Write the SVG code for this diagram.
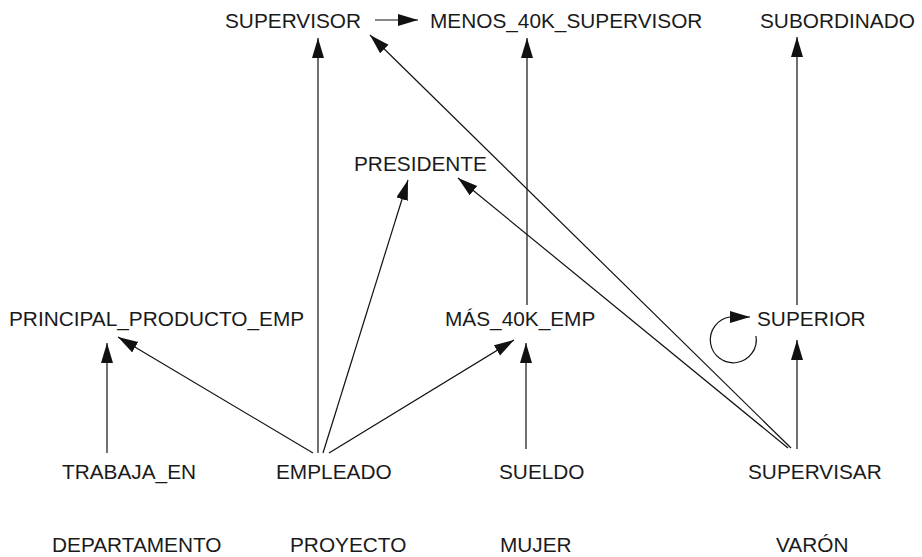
<svg xmlns="http://www.w3.org/2000/svg" width="922" height="557" viewBox="0 0 922 557">
<defs>
<marker id="ah" markerUnits="userSpaceOnUse" markerWidth="22" markerHeight="13" refX="20" refY="6" orient="auto">
<path d="M0,0 L20,6 L0,12 Z" fill="#111"/>
</marker>
<style>
text{font-family:"Liberation Sans",Arial,sans-serif;font-size:20.8px;fill:#1a1a1a}
.e{stroke:#111;stroke-width:1.2;fill:none;marker-end:url(#ah)}
</style>
</defs>
<rect width="922" height="557" fill="#fff"/>
<g id="n-supervisor"><text x="225" y="28">SUPERVISOR</text></g>
<g id="n-menos40k"><text x="430" y="28">MENOS_40K_SUPERVISOR</text></g>
<g id="n-subordinado"><text x="760" y="28">SUBORDINADO</text></g>
<g id="n-presidente"><text x="354" y="171">PRESIDENTE</text></g>
<g id="n-principal"><text x="9" y="326">PRINCIPAL_PRODUCTO_EMP</text></g>
<g id="n-mas40k"><text x="445" y="326">MÁS_40K_EMP</text></g>
<g id="n-superior"><text x="757" y="326">SUPERIOR</text></g>
<g id="n-trabaja"><text x="62" y="479">TRABAJA_EN</text></g>
<g id="n-empleado"><text x="276" y="479">EMPLEADO</text></g>
<g id="n-sueldo"><text x="499" y="479">SUELDO</text></g>
<g id="n-supervisar"><text x="748" y="479">SUPERVISAR</text></g>
<g id="n-departamento"><text x="52" y="552">DEPARTAMENTO</text></g>
<g id="n-proyecto"><text x="290" y="552">PROYECTO</text></g>
<g id="n-mujer"><text x="500" y="552">MUJER</text></g>
<g id="n-varon"><text x="776" y="552">VARÓN</text></g>
<g id="connectors">
<line class="e" x1="375" y1="20" x2="418" y2="20"/>
<line class="e" x1="318" y1="453" x2="318" y2="38"/>
<line class="e" x1="323" y1="453" x2="408" y2="180"/>
<line class="e" x1="313" y1="453" x2="118" y2="337"/>
<line class="e" x1="329" y1="453" x2="514" y2="340"/>
<line class="e" x1="107" y1="453" x2="107" y2="343"/>
<line class="e" x1="526" y1="449" x2="526" y2="343"/>
<line class="e" x1="527" y1="305" x2="527" y2="38"/>
<line class="e" x1="797" y1="449" x2="797" y2="340"/>
<line class="e" x1="797" y1="305" x2="797" y2="37"/>
<line class="e" x1="791" y1="448" x2="370" y2="35"/>
<line class="e" x1="788" y1="448" x2="458" y2="178"/>
<path class="e" d="M756,336 A23,23 0 1 1 730,317 L750,317"/>
</g>
</svg>
